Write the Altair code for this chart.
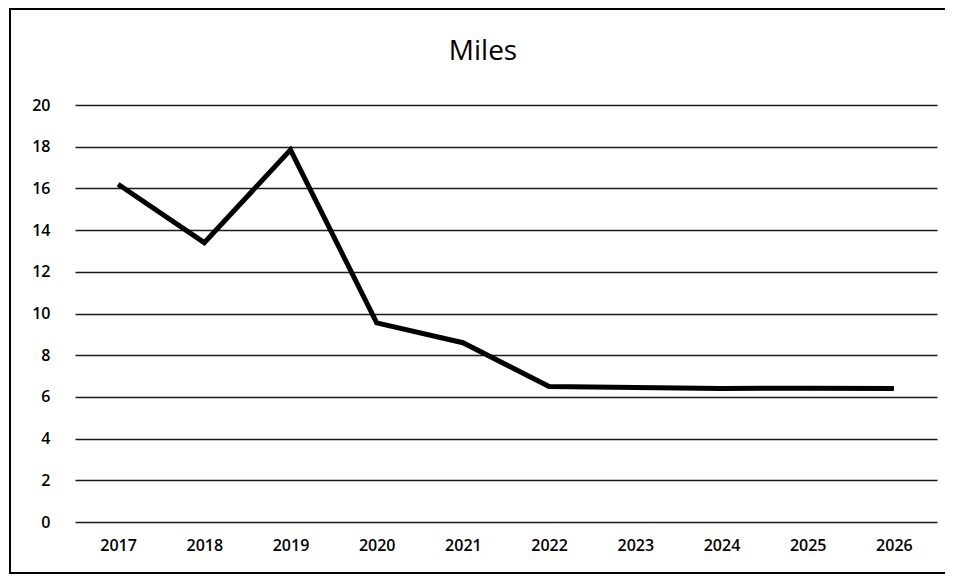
import altair as alt
import pandas as pd

years = ["2017", "2018", "2019", "2020", "2021", "2022", "2023", "2024", "2025", "2026"]
miles = [16.2, 13.4, 17.85, 9.55, 8.6, 6.5, 6.45, 6.4, 6.42, 6.4]
y_ticks = [0, 2, 4, 6, 8, 10, 12, 14, 16, 18, 20]
title_text = "Miles"

df = pd.DataFrame({"year": years, "miles": miles})

FONT = "Open Sans"

line = alt.Chart(df).mark_line(color="black", strokeWidth=5, strokeJoin="miter").encode(
    x=alt.X("year:O", sort=years,
            scale=alt.Scale(type="point", padding=0.5),
            axis=alt.Axis(title=None, labelAngle=0, domain=False, ticks=False, grid=False,
                          labelPadding=15, labelFontSize=16, labelFontWeight=600,
                          labelColor="black", labelFont=FONT)),
    y=alt.Y("miles:Q",
            scale=alt.Scale(domain=[0, 20], nice=False),
            axis=alt.Axis(title=None, values=y_ticks, domain=False, ticks=False, grid=True,
                          gridColor="#1a1a1a", gridWidth=1.3, labelPadding=25,
                          labelFontSize=16, labelFontWeight=600,
                          labelColor="black", labelFont=FONT)),
)

border = alt.Chart(pd.DataFrame({"a": [0]})).mark_rect(
    fill=None, stroke="black", strokeWidth=2
).encode(
    x=alt.value(-65), x2=alt.value(873), y=alt.value(-96), y2=alt.value(468)
)

title = alt.Chart(pd.DataFrame({"t": [title_text]})).mark_text(
    fontSize=28, font=FONT, color="black", align="center", baseline="middle"
).encode(
    text="t:N", x=alt.value(408), y=alt.value(-53)
)

chart = alt.layer(border, line, title).properties(
    width=862, height=417,
    padding={"left": 67, "top": 97, "right": 8, "bottom": 53},
    autosize=alt.AutoSizeParams(type="none"),
).configure_view(stroke=None)

chart.save("out.html", embed_options={"renderer": "svg", "actions": False})
